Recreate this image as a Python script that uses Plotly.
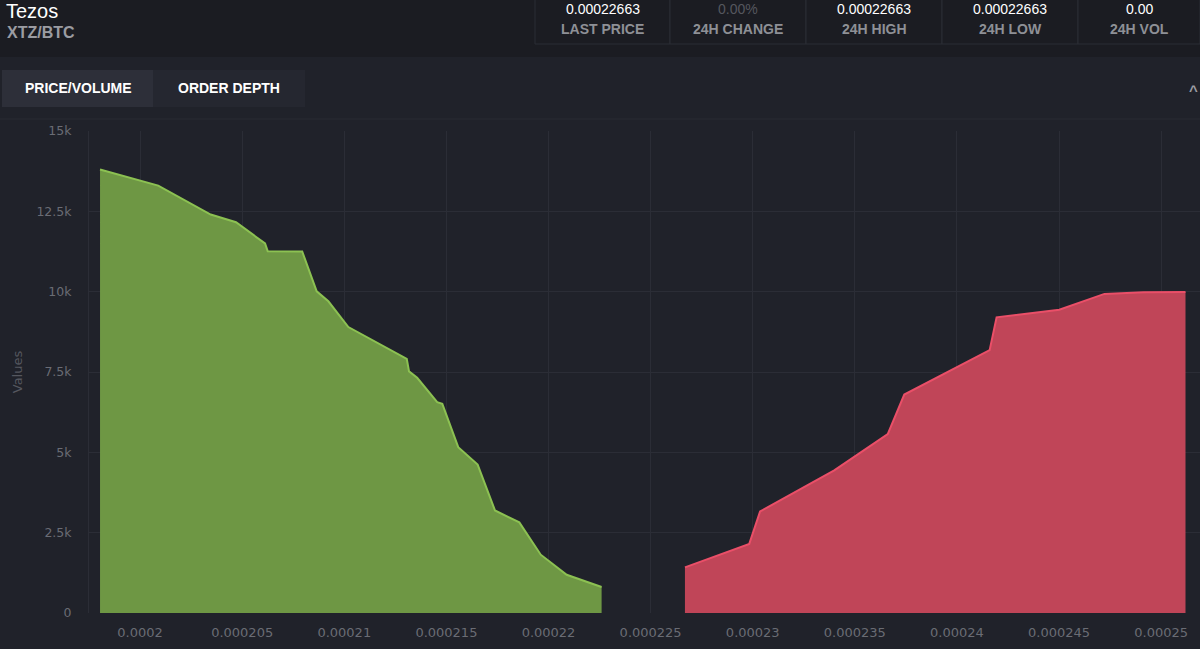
import plotly.graph_objects as go

# order book depth
bid_price = [0.00019804, 0.00020089, 0.00020346, 0.0002047, 0.00020612, 0.00020625,
             0.00020794, 0.00020865, 0.00020922, 0.0002102, 0.00021306, 0.00021317,
             0.00021357, 0.00021455, 0.0002148, 0.00021558, 0.00021653, 0.00021738,
             0.00021857, 0.00021962, 0.00022089, 0.0002226]
bid_volume = [13800, 13300, 12400, 12160, 11500, 11260, 11250, 10010, 9700, 8900,
              7910, 7520, 7320, 6560, 6510, 5160, 4620, 3190, 2820, 1815, 1190, 810]

ask_price = [0.00022668, 0.00022983, 0.00023036, 0.00023399, 0.00023661, 0.00023742,
             0.0002416, 0.00024194, 0.00024501, 0.00024722, 0.00024913, 0.00025119]
ask_volume = [1420, 2150, 3160, 4440, 5570, 6800, 8180, 9200, 9440, 9930, 9980, 9990]

y_ticks = [0, 2500, 5000, 7500, 10000, 12500, 15000]
y_labels = ["0", "2.5k", "5k", "7.5k", "10k", "12.5k", "15k"]

stat_values = ["0.00022663", "0.00%", "0.00022663", "0.00022663", "0.00"]
stat_names = ["LAST PRICE", "24H CHANGE", "24H HIGH", "24H LOW", "24H VOL"]

W, H = 1200, 649
L, R, T, B = 89, 1200, 131, 613

BG = "#20222a"
HEAD = "#1b1c22"
GRID = "#2b2d36"
TXT = "#6a6c74"


def px(x):
    return (x - L) / (R - L)


def py(y):
    return (B - y) / (B - T)


fig = go.Figure()

fig.add_trace(go.Scatter(
    x=bid_price, y=bid_volume, mode="lines", fill="tozeroy",
    line=dict(color="#8cc152", width=2), fillcolor="rgba(113,155,69,0.97)",
    hoverinfo="skip", showlegend=False,
))
fig.add_trace(go.Scatter(
    x=ask_price, y=ask_volume, mode="lines", fill="tozeroy",
    line=dict(color="#ea4f68", width=2), fillcolor="rgba(197,70,90,0.97)",
    hoverinfo="skip", showlegend=False,
))

shapes = []
# header strip
shapes.append(dict(type="rect", xref="paper", yref="paper", x0=px(0), x1=px(W),
                   y0=py(57), y1=py(0), fillcolor=HEAD, line_width=0, layer="below"))
# stat boxes
edges = [535, 670, 806, 942, 1078, 1200]
for i in range(len(edges) - 1):
    shapes.append(dict(type="rect", xref="paper", yref="paper",
                       x0=px(edges[i]), x1=px(edges[i + 1]), y0=py(44), y1=py(-2),
                       line=dict(color="#2a2c34", width=1), fillcolor=HEAD))
# tabs
shapes.append(dict(type="rect", xref="paper", yref="paper", x0=px(2), x1=px(153),
                   y0=py(107), y1=py(70), fillcolor="#2d2f39", line_width=0))
shapes.append(dict(type="rect", xref="paper", yref="paper", x0=px(153), x1=px(305),
                   y0=py(107), y1=py(70), fillcolor="#252730", line_width=0))
# separator under tabs
shapes.append(dict(type="line", xref="paper", yref="paper", x0=px(0), x1=px(W),
                   y0=py(119), y1=py(119), line=dict(color="#292b33", width=1)))

ann = [
    dict(text="Tezos", x=px(4), y=py(11), xanchor="left", yanchor="middle",
         font=dict(family="Liberation Sans", size=20, color="#ffffff")),
    dict(text="<b>XTZ/BTC</b>", x=px(5), y=py(32), xanchor="left", yanchor="middle",
         font=dict(family="Liberation Sans", size=16, color="#9b9ca2")),
    dict(text="<b>PRICE/VOLUME</b>", x=px(78), y=py(88), xanchor="center", yanchor="middle",
         font=dict(family="Liberation Sans", size=14, color="#ffffff")),
    dict(text="<b>ORDER DEPTH</b>", x=px(229), y=py(88), xanchor="center", yanchor="middle",
         font=dict(family="Liberation Sans", size=14, color="#ffffff")),
    dict(text="<b>^</b>", x=px(1193), y=py(90), xanchor="center", yanchor="middle",
         font=dict(family="Liberation Sans", size=15, color="#9b9ca2")),
]
for i, (v, n) in enumerate(zip(stat_values, stat_names)):
    cx = (edges[i] + edges[i + 1]) / 2
    ann.append(dict(text=v, x=px(cx), y=py(9), xanchor="center", yanchor="middle",
                    font=dict(family="Liberation Sans", size=14,
                              color="#55575e" if n == "24H CHANGE" else "#ffffff")))
    ann.append(dict(text="<b>" + n + "</b>", x=px(cx), y=py(29), xanchor="center",
                    yanchor="middle",
                    font=dict(family="Liberation Sans", size=14, color="#8e9096")))
for a in ann:
    a.update(xref="paper", yref="paper", showarrow=False)

fig.update_layout(
    width=W, height=H,
    margin=dict(l=L, r=W - R, t=T, b=H - B, pad=0),
    paper_bgcolor=BG, plot_bgcolor=BG,
    font=dict(family="DejaVu Sans", size=12, color=TXT),
    shapes=shapes, annotations=ann,
    hovermode=False,
    xaxis=dict(range=[0.0001975, 0.0002519], dtick=0.000005, tick0=0.0002,
               tickformat="~g", showgrid=True, gridcolor=GRID, gridwidth=1,
               zeroline=False, showline=False, ticks="", ticklabelstandoff=10,
               tickfont=dict(family="DejaVu Sans", size=13, color=TXT)),
    yaxis=dict(range=[0, 15000], tickvals=y_ticks, ticktext=y_labels,
               showgrid=True, gridcolor=GRID, gridwidth=1, zeroline=False,
               showline=True, linecolor=GRID, ticks="", ticklabelstandoff=14,
               title=dict(text="Values", standoff=10,
                          font=dict(family="DejaVu Sans", size=13, color="#55575f")),
               tickfont=dict(family="DejaVu Sans", size=12.5, color=TXT)),
)

fig.write_html("out.html", config={"displayModeBar": False},
               post_script="document.body.style.margin='0';")
